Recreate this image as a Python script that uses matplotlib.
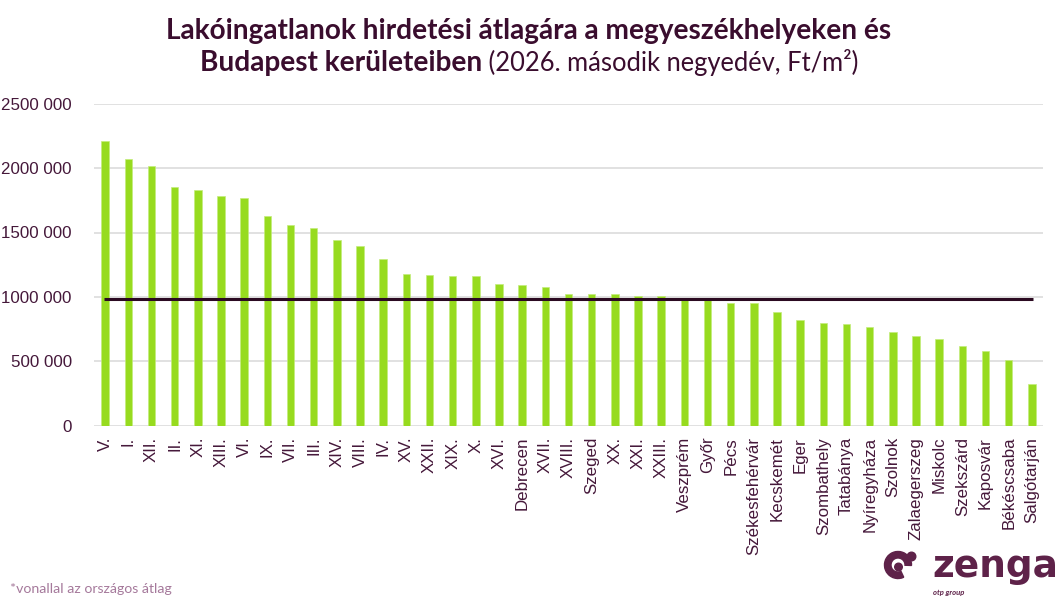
import numpy as np
import matplotlib
matplotlib.use("Agg")
import matplotlib.pyplot as plt
from matplotlib.patches import Wedge, Circle

# adatok
labels = ["V.", "I.", "XII.", "II.", "XI.", "XIII.", "VI.", "IX.", "VII.", "III.",
          "XIV.", "VIII.", "IV.", "XV.", "XXII.", "XIX.", "X.", "XVI.", "Debrecen",
          "XVII.", "XVIII.", "Szeged", "XX.", "XXI.", "XXIII.", "Veszprém", "Győr",
          "Pécs", "Székesfehérvár", "Kecskemét", "Eger", "Szombathely", "Tatabánya",
          "Nyíregyháza", "Szolnok", "Zalaegerszeg", "Miskolc", "Szekszárd",
          "Kaposvár", "Békéscsaba", "Salgótarján"]
values = [2212000, 2073000, 2014000, 1857000, 1832000, 1783000, 1770000, 1631000,
          1557000, 1533000, 1438000, 1392000, 1294000, 1181000, 1173000, 1166000,
          1163000, 1104000, 1090000, 1080000, 1026000, 1021000, 1021000, 1005000,
          1005000, 985000, 982000, 956000, 951000, 886000, 821000, 798000, 793000,
          767000, 728000, 697000, 676000, 622000, 578000, 508000, 324000]
orszagos_atlag = 982000
y_ticks = [0, 500000, 1000000, 1500000, 2000000, 2500000]
y_tick_labels = ["0", "500 000", "1000 000", "1500 000", "2000 000", "2500 000"]

green = "#97db1f"
purple = "#3a0d2e"
tick_color = "#45183a"
logo_color = "#5e2249"

W, H = 1058, 604
fig = plt.figure(figsize=(W / 100, H / 100), dpi=100)
ax = fig.add_axes([94 / W, 1 - 425.7 / H, (1043 - 94) / W, (425.7 - 103.7) / H])

x = np.arange(len(labels))
ax.bar(x, values, width=0.32, color=green, edgecolor="#c4ec7c", linewidth=0.5, zorder=2)
ax.hlines(orszagos_atlag, -0.05, len(labels) - 1 + 0.05, color="#2b0a21", linewidth=2.2, zorder=3)

ax.set_xlim(-0.48, len(labels) - 0.52)
ax.set_ylim(0, 2500000)
ax.set_yticks(y_ticks)
ax.set_yticklabels(y_tick_labels)
ax.set_xticks(x)
ax.set_xticklabels(labels, rotation=90)
ax.tick_params(axis="both", length=0, labelsize=12.2, labelcolor=tick_color)
ax.tick_params(axis="y", pad=16)
ax.tick_params(axis="x", pad=8)
for lab in ax.get_xticklabels() + ax.get_yticklabels():
    lab.set_fontfamily("Liberation Sans")
ax.grid(axis="y", color="#d9d9d9", linewidth=1.1, zorder=0)
for s in ax.spines.values():
    s.set_visible(False)

# cím
fig.text(0.5, 1 - 39 / H, "Lakóingatlanok hirdetési átlagára a megyeszékhelyeken és",
         ha="center", va="baseline", fontsize=20.2, fontweight="bold",
         family="Lato", color=purple)
fig.canvas.draw()
r = fig.canvas.get_renderer()
t1 = fig.text(0, 1 - 71 / H, "Budapest kerületeiben", ha="left", va="baseline",
              fontsize=20.2, fontweight="bold", family="Lato", color=purple)
t2 = fig.text(0, 1 - 71 / H, " (2026. második negyedév, Ft/m²)", ha="left", va="baseline",
              fontsize=18.4, family="Lato", color=purple)
w1 = t1.get_window_extent(r).width
w2 = t2.get_window_extent(r).width
x0 = (W - w1 - w2) / 2
t1.set_x(x0 / W)
t2.set_x((x0 + w1) / W)

# lábjegyzet
fig.text(10 / W, 1 - 589 / H, "*vonallal az országos átlag", ha="left", va="center",
         fontsize=10.2, family="Lato", color="#a5799b")

# logó
lax = fig.add_axes([0, 0, 1, 1], zorder=5)
lax.set_xlim(0, W)
lax.set_ylim(H, 0)
lax.axis("off")
lax.add_patch(Wedge((898, 565), 13.5, 65, 362, width=6.5, color=logo_color))
lax.add_patch(Circle((911.5, 556.5), 4.3, color=logo_color))
lax.add_patch(Circle((898.5, 567), 3.8, color=logo_color))
lax.text(932, 577, "zenga", ha="left", va="baseline", fontsize=27, fontweight="bold",
         family="DejaVu Sans", color=logo_color)
lax.text(933, 593, "otp group", ha="left", va="center", fontsize=5.5, style="italic",
         fontweight="bold", family="Lato", color=logo_color)

fig.savefig("out.png", dpi=100)
